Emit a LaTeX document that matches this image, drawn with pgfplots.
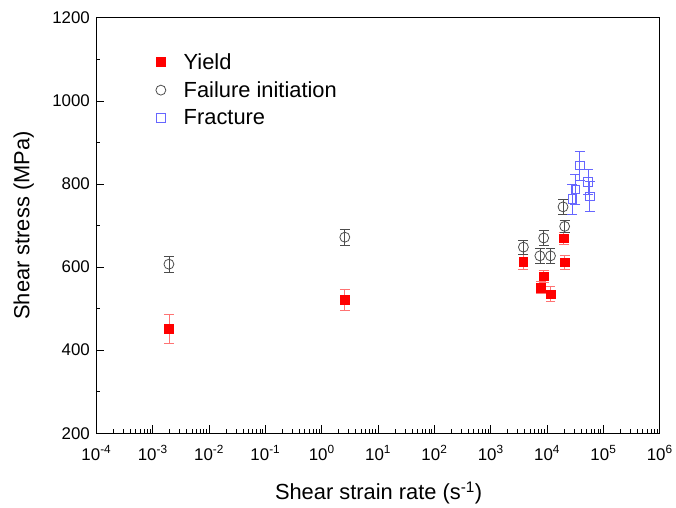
\documentclass[border=0pt]{standalone}
\usepackage{fontspec}
\setmainfont{Liberation Sans}
\usepackage{pgfplots}
\pgfplotsset{compat=1.18}
\begin{document}
\begin{tikzpicture}
\begin{axis}[
  scale only axis, width=567pt, height=418pt,
  xmode=log, xmin=1e-4, xmax=1e6, ymin=200, ymax=1200,
  xtick={1e-4,1e-3,1e-2,1e-1,1e0,1e1,1e2,1e3,1e4,1e5,1e6},
  xticklabels={10\textsuperscript{-4},10\textsuperscript{-3},10\textsuperscript{-2},10\textsuperscript{-1},10\textsuperscript{0},10\textsuperscript{1},10\textsuperscript{2},10\textsuperscript{3},10\textsuperscript{4},10\textsuperscript{5},10\textsuperscript{6}},
  minor xtick={2e-4,3e-4,4e-4,5e-4,6e-4,7e-4,8e-4,9e-4,
    2e-3,3e-3,4e-3,5e-3,6e-3,7e-3,8e-3,9e-3,
    2e-2,3e-2,4e-2,5e-2,6e-2,7e-2,8e-2,9e-2,
    2e-1,3e-1,4e-1,5e-1,6e-1,7e-1,8e-1,9e-1,
    2,3,4,5,6,7,8,9,20,30,40,50,60,70,80,90,
    200,300,400,500,600,700,800,900,
    2000,3000,4000,5000,6000,7000,8000,9000,
    2e4,3e4,4e4,5e4,6e4,7e4,8e4,9e4,
    2e5,3e5,4e5,5e5,6e5,7e5,8e5,9e5},
  ytick={200,400,600,800,1000,1200},
  minor ytick={300,500,700,900,1100},
  /pgf/number format/1000 sep={},
  /pgf/number format/assume math mode=true,
  tick align=inside, xtick pos=bottom, ytick pos=left,
  major tick length=8pt, minor tick length=4pt,
  axis line style={line width=0.9pt}, tick style={line width=0.8pt, black},
  ticklabel style={font=\fontsize{17}{19}\selectfont},
  xticklabel style={yshift=-9pt},
  yticklabel style={xshift=-3pt},
  xlabel={Shear strain rate (s\textsuperscript{-1})},
  ylabel={Shear stress (MPa)},
  label style={font=\fontsize{22}{25}\selectfont},
  xlabel style={at={(axis description cs:0.501,-0.1435)}, anchor=center},
  ylabel style={at={(axis description cs:-0.129,0.5)}, anchor=center},
  legend style={at={(axis description cs:0.1,0.925)}, anchor=north west, draw=none, fill=none,
    font=\fontsize{22}{24}\selectfont, row sep=7pt, legend cell align=left},
  clip=false,
]
\addplot[only marks, mark=square*, mark size=4.3pt, mark options={fill=red, draw=red},
  error bars/.cd, y dir=both, y explicit, error bar style={color=red!55, line width=0.7pt},
  error mark options={rotate=90, mark size=5pt, color=red!55}]
  table[y error=e] {
x y e
0.00194 452 35
2.57 522 25
3800 613 17
8700 578 15
7750 551 15
11500 535 18
19600 670 15
20500 612 17
};
\addlegendentry{\hspace{16pt}Yield}
\addplot[only marks, mark=o, mark size=5pt, mark options={draw=black!70, line width=0.8pt},
  error bars/.cd, y dir=both, y explicit, error bar style={color=black!70, line width=0.7pt},
  error mark options={rotate=90, mark size=5pt, color=black!70}]
  table[y error=e] {
x y e
0.00194 607 20
2.57 672 20
3800 648 17
8700 670 18
7450 627 18
11500 627 18
19200 745 18
20500 698 15
};
\addlegendentry{\hspace{16pt}Failure initiation}
\addplot[only marks, mark=square, mark size=4.3pt, mark options={draw=blue!60, line width=0.8pt},
  error bars/.cd, y dir=both, y explicit, error bar style={color=blue!60, line width=0.7pt},
  error mark options={rotate=90, mark size=5pt, color=blue!60}]
  table[y error=e] {
x y e
38000 845 35
53000 805 30
57000 770 36
31800 787 36
28000 764 36
};
\addlegendentry{\hspace{16pt}Fracture}
\end{axis}
\path[use as bounding box] ([shift={(-97pt,-75pt)}]current axis.south west) rectangle ([shift={(12pt,18pt)}]current axis.north east);
\end{tikzpicture}
\end{document}
